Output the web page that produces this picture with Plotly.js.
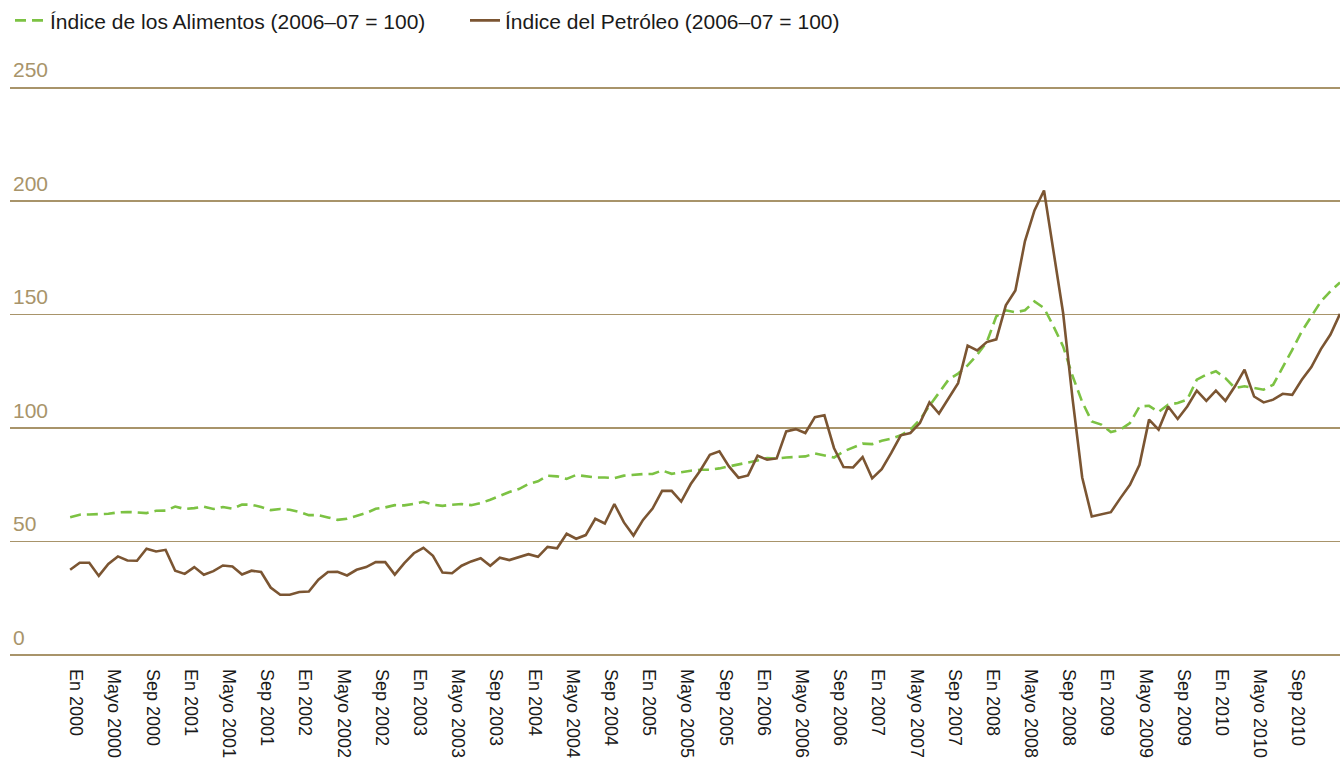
<!DOCTYPE html>
<html>
<head>
<meta charset="utf-8">
<script src="https://cdn.plot.ly/plotly-3.0.1.min.js"></script>
<style>html,body{margin:0;padding:0;background:#fff;}#chart{width:1340px;height:758px;}</style>
</head>
<body>
<div id="chart"></div>
<script>
// Monthly index values, January 2000 to February 2011 (2006–07 = 100)
const foodIndex = [
  60.7, 61.8, 61.9, 61.9, 62.2, 62.8, 63.0, 62.8, 62.5, 63.5, 63.6, 65.4,
  64.3, 64.7, 65.3, 64.3, 65.2, 64.4, 66.3, 66.2, 65.2, 63.8, 64.3, 64.0,
  63.0, 61.6, 61.6, 60.6, 59.5, 60.0, 61.3, 62.5, 64.4, 65.0, 66.0, 65.9,
  66.6, 67.5, 66.2, 65.7, 66.2, 66.5, 66.0, 66.9, 68.4, 70.1, 71.8, 73.1,
  75.3, 76.5, 79.0, 78.7, 77.6, 79.3, 78.7, 78.2, 78.2, 77.9, 79.0, 79.4,
  79.7, 79.7, 81.3, 79.8, 80.6, 81.2, 81.6, 81.6, 82.2, 83.1, 83.8, 84.6,
  85.7, 86.8, 86.5, 87.0, 87.2, 87.5, 88.8, 87.8, 87.0, 89.7, 91.5, 93.1,
  92.9, 94.4, 95.3, 96.8, 99.3, 103.7, 109.8, 115.4, 121.3, 124.0, 127.6, 132.3,
  137.8, 149.2, 151.9, 151.0, 151.9, 155.8, 152.9, 144.8, 136.0, 122.8, 111.5, 102.9,
  101.5, 98.2, 99.3, 102.2, 109.5, 109.8, 107.1, 110.3, 111.0, 112.5, 121.3, 123.5,
  125.0, 122.0, 117.6, 118.4, 117.6, 116.9, 119.1, 126.5, 134.5, 142.6, 149.2, 155.8,
  160.3, 164.2
];
const oilIndex = [
  37.5, 40.6, 40.6, 34.8, 40.1, 43.4, 41.6, 41.5, 46.8, 45.6, 46.3, 37.1,
  35.7, 38.7, 35.3, 36.9, 39.4, 39.0, 35.4, 37.1, 36.5, 29.7, 26.5, 26.5,
  27.7, 27.9, 33.1, 36.5, 36.6, 35.0, 37.5, 38.7, 40.9, 40.9, 35.4, 40.4,
  44.8, 47.2, 43.7, 36.3, 36.0, 39.3, 41.2, 42.6, 39.3, 42.8, 41.8, 43.1,
  44.4, 43.2, 47.6, 47.0, 53.4, 51.2, 52.8, 60.0, 57.9, 66.5, 58.4, 52.6,
  59.5, 64.5, 72.3, 72.3, 67.6, 75.3, 81.3, 88.2, 89.7, 83.1, 78.1, 79.1,
  87.8, 86.0, 86.6, 98.5, 99.5, 97.8, 104.8, 105.6, 91.2, 82.8, 82.6, 87.2,
  77.8, 81.9, 89.0, 96.8, 97.8, 102.2, 111.3, 106.4, 112.9, 119.8, 136.3, 134.2,
  137.9, 139.1, 154.1, 160.6, 182.3, 195.9, 204.7, 177.9, 150.7, 112.5, 78.2, 61.0,
  61.8, 62.9, 69.1, 75.0, 83.8, 103.7, 99.3, 109.5, 104.0, 109.5, 116.5, 112.0,
  116.5, 112.0, 118.4, 125.7, 113.9, 111.3, 112.5, 115.1, 114.6, 121.3, 126.9, 134.8,
  141.2, 150.3
];
// Tick labels, one every four months starting January 2000
const tickLabels = [
  "En 2000", "Mayo 2000", "Sep 2000", "En 2001", "Mayo 2001", "Sep 2001",
  "En 2002", "Mayo 2002", "Sep 2002", "En 2003", "Mayo 2003", "Sep 2003",
  "En 2004", "Mayo 2004", "Sep 2004", "En 2005", "Mayo 2005", "Sep 2005",
  "En 2006", "Mayo 2006", "Sep 2006", "En 2007", "Mayo 2007", "Sep 2007",
  "En 2008", "Mayo 2008", "Sep 2008", "En 2009", "Mayo 2009", "Sep 2009",
  "En 2010", "Mayo 2010", "Sep 2010"
];
const seriesNames = ["Índice de los Alimentos (2006–07 = 100)", "Índice del Petróleo (2006–07 = 100)"];
const yTicks = [0, 50, 100, 150, 200, 250];

const monthIdx = foodIndex.map((_, i) => i);
const tickVals = tickLabels.map((_, i) => i * 4);

const FONT = '"Liberation Sans", Arial, Helvetica, sans-serif';

const traces = [
  {
    x: monthIdx, y: foodIndex, type: 'scatter', mode: 'lines', name: seriesNames[0],
    line: {color: '#7cc243', width: 2.6, dash: '11px,6px'}
  },
  {
    x: monthIdx, y: oilIndex, type: 'scatter', mode: 'lines', name: seriesNames[1],
    line: {color: '#7b5532', width: 2.6}
  }
];

const layout = {
  width: 1340, height: 758,
  margin: {l: 10, r: 0, t: 55.5, b: 101.9, pad: 0},
  paper_bgcolor: '#ffffff', plot_bgcolor: '#ffffff',
  font: {family: FONT, color: '#1a1a1a'},
  showlegend: true,
  legend: {
    orientation: 'h', x: 0, xanchor: 'left', y: 1.093, yanchor: 'top',
    font: {family: FONT, size: 21, color: '#1a1a1a'},
    bgcolor: 'rgba(0,0,0,0)', traceorder: 'normal',
    entrywidth: 410, entrywidthmode: 'pixels'
  },
  xaxis: {
    range: [-6.3, 133], showgrid: false, zeroline: false, showline: false,
    tickmode: 'array', tickvals: tickVals, ticktext: tickLabels,
    tickangle: 90, ticks: '', ticklabelstandoff: 12, ticklabelshift: 6,
    tickfont: {family: FONT, size: 18, color: '#1a1a1a'}
  },
  yaxis: {
    range: [-0.5, 264], showgrid: true, gridcolor: '#a8946a', gridwidth: 1.5,
    zeroline: false, showline: false,
    tickmode: 'array', tickvals: yTicks,
    ticklabelposition: 'inside top', ticks: '', ticklabelshift: -3,
    tickfont: {family: FONT, size: 21, color: '#a8946a'}
  }
};

Plotly.newPlot('chart', traces, layout, {displayModeBar: false, staticPlot: true});
</script>
</body>
</html>
